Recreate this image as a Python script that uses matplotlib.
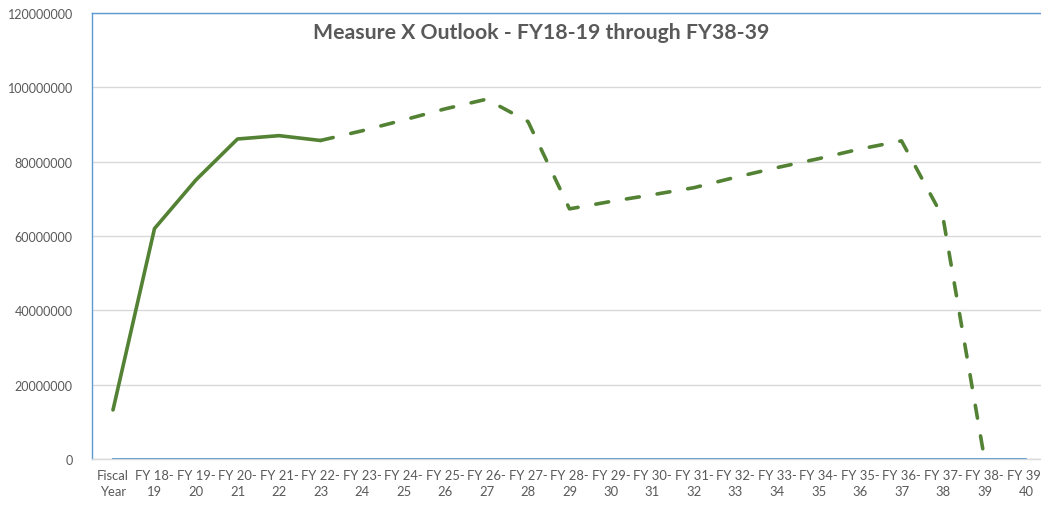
import numpy as np
import matplotlib
matplotlib.use("Agg")
import matplotlib.pyplot as plt

categories = ["Fiscal\nYear"] + [f"FY {y}-\n{y+1}" for y in range(18, 40)]

actual = [13.2e6, 62.0e6, 75.1e6, 86.1e6, 87.0e6, 85.7e6]          # Fiscal Year .. FY 22-23
projected = [85.7e6, 88.3e6, 91.2e6, 94.2e6, 96.8e6, 90.8e6, 67.3e6, 69.3e6,
             71.1e6, 73.0e6, 75.8e6, 78.4e6, 80.8e6, 83.4e6, 85.6e6, 65.0e6, 0.0]  # FY 22-23 .. FY 38-39
baseline = [0.0] * len(categories)

title = "Measure X Outlook - FY18-19 through FY38-39"
yticks = [0, 20000000, 40000000, 60000000, 80000000, 100000000, 120000000]

GREEN = "#548235"
BLUE = "#5B9BD5"
GRID = "#D9D9D9"
TXT = "#595959"

fig = plt.figure(figsize=(10.41, 5.10), dpi=100)
W, H = 1041, 510
ax = fig.add_axes([92.25 / W, 1 - 460 / H, (1046.75 - 92.25) / W, (460 - 14) / H])

x = np.arange(len(categories))

ax.set_yticks(yticks)
ax.set_yticklabels([str(v) for v in yticks])
ax.grid(axis="y", color=GRID, linewidth=1.0)
ax.set_axisbelow(True)

ax.plot(x, baseline, color=BLUE, linewidth=1.3, zorder=3)

ax.plot(x[:len(actual)], actual, color=GREEN, linewidth=2.6,
        solid_capstyle="round", solid_joinstyle="round", zorder=4)

px = x[len(actual) - 1:len(actual) - 1 + len(projected)]
ax.plot(px, projected, color=GREEN, linewidth=2.6, linestyle=(0, (3.6, 5.0)),
        dash_capstyle="round", dash_joinstyle="round", zorder=4)

ax.set_xlim(-0.5, len(categories) - 0.5)
ax.set_ylim(0, 120000000)
ax.set_xticks(x)
ax.set_xticklabels(categories, linespacing=1.45)

for s in ["left", "top", "right"]:
    ax.spines[s].set_color(BLUE)
    ax.spines[s].set_linewidth(1.0)
ax.spines["bottom"].set_color(GRID)
ax.spines["bottom"].set_linewidth(1.0)

ax.tick_params(axis="both", length=0, colors=TXT, labelsize=9)
ax.tick_params(axis="x", labelsize=9.4, pad=7)
ax.tick_params(axis="y", pad=14)
for lbl in ax.get_xticklabels() + ax.get_yticklabels():
    lbl.set_fontfamily("Lato")

fig.text(541 / W, 1 - 33 / H, title, ha="center", va="center",
         fontsize=15.3, fontweight="bold", color=TXT, family="Lato")

fig.savefig("out.png", dpi=100)
